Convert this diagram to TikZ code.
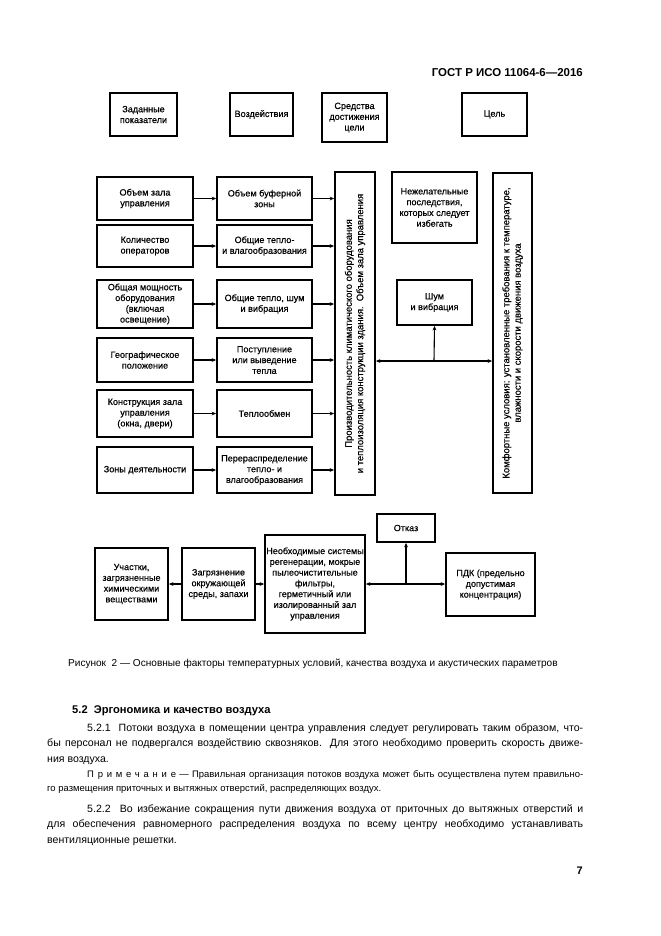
\documentclass[tikz,border=0pt]{standalone}
\usepackage{fontspec}
\setmainfont{Liberation Sans}
\newfontfamily\dgfont[FakeBold=0.4]{Liberation Sans}
\usetikzlibrary{arrows.meta}
\begin{document}
\begin{tikzpicture}[x=1bp,y=-1bp,
  box/.style={draw, line width=1.8bp, align=center, inner sep=1bp,
    font=\dgfont\fontsize{9.1}{10.8}\selectfont},
  arr/.style={line width=1.1bp, -{Stealth[length=4.5bp,width=3.8bp]}},
  vtext/.style={rotate=90, align=center, inner sep=0pt, font=\dgfont\fontsize{9.5}{11.5}\selectfont},
  body/.style={anchor=base west, inner sep=0pt, text width=536bp, align=justify,
    font=\fontsize{10.6}{15.7}\selectfont}]
\useasboundingbox[fill=white] (0,0) rectangle (661,936);

\node[anchor=east, inner sep=0pt, font=\fontsize{11.5}{13}\selectfont\bfseries] (hdr) at (583,73) {ГОСТ Р ИСО 11064-6—2016};

% top row
\node[box, minimum width=67bp, minimum height=43bp] (t1) at (143.5,114.5) {Заданные\\показатели};
\node[box, minimum width=63bp, minimum height=43bp] (t2) at (261.5,114.5) {Воздействия};
\node[box, minimum width=65bp, minimum height=49bp] (t3) at (354.5,117.5) {Средства\\достижения\\цели};
\node[box, minimum width=65bp, minimum height=43bp] (t4) at (494.5,114.5) {Цель};

% left column
\node[box, minimum width=96bp, minimum height=43bp] (l1) at (145,198.5) {Объем зала\\управления};
\node[box, minimum width=96bp, minimum height=42bp] (l2) at (145,246) {Количество\\операторов};
\node[box, minimum width=96bp, minimum height=48bp] (l3) at (145,304) {Общая мощность\\оборудования\\(включая\\освещение)};
\node[box, minimum width=96bp, minimum height=44bp] (l4) at (145,360) {Географическое\\положение};
\node[box, minimum width=96bp, minimum height=47bp] (l5) at (145,413.5) {Конструкция зала\\управления\\(окна, двери)};
\node[box, minimum width=96bp, minimum height=46bp] (l6) at (145,470) {Зоны деятельности};

% middle column
\node[box, minimum width=95bp, minimum height=43bp] (m1) at (264.5,198.5) {Объем буферной\\зоны};
\node[box, minimum width=95bp, minimum height=42bp] (m2) at (264.5,246) {Общие тепло-\\и влагообразования};
\node[box, minimum width=95bp, minimum height=48bp] (m3) at (264.5,304) {Общие тепло, шум\\и вибрация};
\node[box, minimum width=95bp, minimum height=44bp] (m4) at (264.5,360) {Поступление\\или выведение\\тепла};
\node[box, minimum width=95bp, minimum height=47bp] (m5) at (264.5,413.5) {Теплообмен};
\node[box, minimum width=95bp, minimum height=46bp] (m6) at (264.5,470) {Перераспределение\\тепло- и\\влагообразования};

% vertical boxes
\node[box, minimum width=40bp, minimum height=323bp] (v1) at (355,333.5) {};
\node[vtext] (v1t) at (v1.center)
  {Производительность климатического оборудования\\и теплоизоляция конструкции здания.~~Объем зала управления};
\node[box, minimum width=39bp, minimum height=320bp] (v2) at (512.5,333) {};
\node[vtext] (v2t) at (v2.center)
  {Комфортные условия: установленные требования к температуре,\\влажности и скорости движения воздуха};

\node[box, minimum width=85bp, minimum height=71bp] (n) at (434.5,207.5) {Нежелательные\\последствия,\\которых следует\\избегать};
\node[box, minimum width=75bp, minimum height=45bp] (s) at (434.5,302.5) {Шум\\и вибрация};

% arrows top part
\foreach \i in {1,...,6}{
  \draw[arr] (l\i.east) -- (m\i.west);
  \draw[arr] (m\i.east) -- (m\i.east -| v1.west);
}
\coordinate (j1) at (434,361);
\draw[arr] (j1) -- (j1 -| v1.east);
\draw[arr] (j1) -- (j1 -| v2.west);
\draw[arr] (j1) -- (s.south);

% bottom part
\node[box, minimum width=73bp, minimum height=72bp] (b1) at (131.5,584) {Участки,\\загрязненные\\химическими\\веществами};
\node[box, minimum width=73bp, minimum height=72bp] (b2) at (218.5,584) {Загрязнение\\окружающей\\среды, запахи};
\node[box, minimum width=100bp, minimum height=98bp] (b3) at (315,584) {Необходимые системы\\регенерации, мокрые\\пылеочистительные\\фильтры,\\герметичный или\\изолированный зал\\управления};
\node[box, minimum width=58bp, minimum height=28bp] (o) at (406,528) {Отказ};
\node[box, minimum width=89bp, minimum height=63bp] (p) at (490.5,584.5) {ПДК (предельно\\допустимая\\концентрация)};

\draw[arr] (b2.west) -- (b1.east);
\draw[arr] (b2.east) -- (b3.west);
\coordinate (j2) at (406,584);
\draw[arr] (j2) -- (j2 -| b3.east);
\draw[arr] (j2) -- (o.south);
\draw[arr] (j2) -- (j2 -| p.west);

% caption and text
\node[anchor=west, inner sep=0pt, font=\fontsize{10.1}{12}\selectfont] (cap) at (68,664)
  {Рисунок\ \ 2 — Основные факторы температурных условий, качества воздуха и акустических параметров};

\node[anchor=west, inner sep=0pt, font=\fontsize{11.2}{13}\selectfont\bfseries] (h52) at (72,711)
  {5.2\ \ Эргономика и качество воздуха};

\node[body] (p1) at (47,731) {%
\hspace*{40bp}5.2.1\ \ Потоки воздуха в помещении центра управления следует регулировать таким образом, что-\linebreak
бы персонал не подвергался воздействию сквозняков. Для этого необходимо проверить скорость движе-\linebreak
ния воздуха.};

\node[body, font=\fontsize{9.5}{14}\selectfont] (p2) at (47,777.5) {%
\hspace*{40bp}{\addfontfeature{LetterSpace=40}Примечание} — Правильная организация потоков воздуха может быть осуществлена путем правильно-\linebreak
го размещения приточных и вытяжных отверстий, распределяющих воздух.};

\node[body] (p3) at (47,812) {%
\hspace*{40bp}5.2.2\ \ Во избежание сокращения пути движения воздуха от приточных до вытяжных отверстий и\linebreak
для обеспечения равномерного распределения воздуха по всему центру необходимо устанавливать\linebreak
вентиляционные решетки.};

\node[anchor=east, inner sep=0pt, font=\fontsize{11}{13}\selectfont\bfseries] (pg) at (583,871) {7};
\end{tikzpicture}
\end{document}
